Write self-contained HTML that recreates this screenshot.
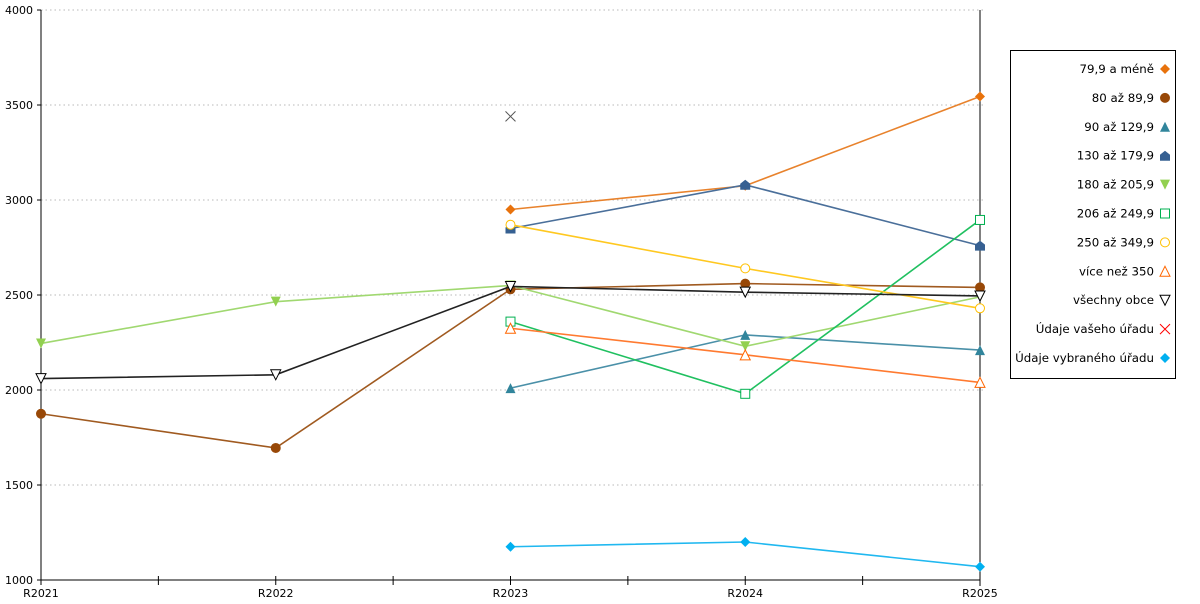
<!DOCTYPE html>
<html><head><meta charset="utf-8"><style>
body{margin:0;background:#fff;width:1200px;height:600px;overflow:hidden;font-family:"DejaVu Sans","Liberation Sans",sans-serif}
svg text{font-family:"DejaVu Sans","Liberation Sans",sans-serif;font-size:11px;fill:#000}
svg text.lg{font-size:11.8px}
</style></head><body>
<svg id="chart" width="1200" height="600"></svg>
<script>
const categories=["R2021","R2022","R2023","R2024","R2025"];
const yTicks=[1000,1500,2000,2500,3000,3500,4000];
const seriesNames=["79,9 a méně","80 až 89,9","90 až 129,9","130 až 179,9","180 až 205,9","206 až 249,9","250 až 349,9","více než 350","všechny obce","Údaje vašeho úřadu","Údaje vybraného úřadu"];
const s1=[null,null,2950,3075,3545];
const s2=[1875,1695,2530,2560,2540];
const s3=[null,null,2010,2290,2210];
const s4=[null,null,2850,3080,2760];
const s5=[2245,2465,2550,2230,2490];
const s6=[null,null,2360,1980,2895];
const s7=[null,null,2870,2640,2430];
const s8=[null,null,2325,2185,2040];
const s9=[2060,2080,2545,2515,2495];
const s10=[null,null,3440,null,null];
const s11=[null,null,1175,1200,1070];
const seriesValues=[s1,s2,s3,s4,s5,s6,s7,s8,s9,s10,s11];
const colors=["#e8720c","#984807","#31859c","#366092","#92d050","#00b050","#ffc000","#ff6600","#000000","#ff0000","#00b0f0"];
const lineColors=["#e8822c","#a05a20","#4a90a8","#4a6f9a","#a0d870","#20c060","#ffc820","#ff7a30","#222222","#555555","#20b8f0"];
const markers=["diamond","circle","tri","house","itri","square","ocircle","otri","oitri","x","diamond"];
const NS="http://www.w3.org/2000/svg";
const svg=document.getElementById('chart');
const X0=41,X1=980,Y0=580,Y1=10;
function xs(i){return X0+i*(X1-X0)/(categories.length-1);}
function ys(v){return Y0-(v-1000)/(4000-1000)*(Y0-Y1);}
function el(t,a){const e=document.createElementNS(NS,t);for(const k in a)e.setAttribute(k,a[k]);return e;}
yTicks.forEach(t=>{
  if(t>1000){const g=el('line',{x1:X0,x2:X1+4,y1:ys(t),y2:ys(t),stroke:'#b8b8b8','stroke-dasharray':'1.5,3'});
  
  svg.appendChild(g);}
  const tx=el('text',{x:X0-8,y:ys(t)+4,'text-anchor':'end'});tx.textContent=t;
  
  svg.appendChild(tx);
  const tk=el('line',{x1:X0-4,x2:X0,y1:ys(t),y2:ys(t),stroke:'#000'});svg.appendChild(tk);
});
const ya=el('line',{x1:X0,x2:X0,y1:Y1,y2:Y0,stroke:'#000'});

svg.appendChild(ya);
const xa=el('line',{x1:X0,x2:X1,y1:Y0,y2:Y0,stroke:'#000'});

svg.appendChild(xa);
const vl=el('line',{x1:X1,x2:X1,y1:Y1,y2:Y0+6,stroke:'#000'});

svg.appendChild(vl);
for(let i=0;i<categories.length*2-1;i++){
  const x=X0+i*(X1-X0)/((categories.length-1)*2);
  svg.appendChild(el('line',{x1:x,x2:x,y1:Y0-4,y2:Y0+5,stroke:'#000'}));
}
categories.forEach((c,i)=>{
  const t=el('text',{x:xs(i),y:Y0+17,'text-anchor':'middle'});t.textContent=c;
  
  svg.appendChild(t);
});
function marker(type,x,y,c,parent){
  let m;const r=5;
  if(type==='diamond')m=el('polygon',{points:`${x},${y-r} ${x+r},${y} ${x},${y+r} ${x-r},${y}`,fill:c});
  else if(type==='circle')m=el('circle',{cx:x,cy:y,r:5,fill:c});
  else if(type==='ocircle')m=el('circle',{cx:x,cy:y,r:4.5,fill:'#fff',stroke:c});
  else if(type==='tri')m=el('polygon',{points:`${x},${y-5} ${x+5},${y+5} ${x-5},${y+5}`,fill:c});
  else if(type==='otri')m=el('polygon',{points:`${x},${y-5} ${x+5},${y+5} ${x-5},${y+5}`,fill:'#fff',stroke:c});
  else if(type==='itri')m=el('polygon',{points:`${x-5},${y-5} ${x+5},${y-5} ${x},${y+5}`,fill:c});
  else if(type==='oitri')m=el('polygon',{points:`${x-5},${y-5} ${x+5},${y-5} ${x},${y+5}`,fill:'#fff',stroke:c});
  else if(type==='house')m=el('polygon',{points:`${x},${y-5} ${x+5},${y-1} ${x+5},${y+5} ${x-5},${y+5} ${x-5},${y-1}`,fill:c});
  else if(type==='square')m=el('rect',{x:x-4.5,y:y-4.5,width:9,height:9,fill:'#fff',stroke:c});
  else {m=el('path',{d:`M${x-5},${y-5}L${x+5},${y+5}M${x+5},${y-5}L${x-5},${y+5}`,stroke:c,fill:'none'});}
  parent.appendChild(m);return m;
}
seriesValues.forEach((vals,si)=>{
  const g=el('g',{});
  
  
  let d='';let started=false;
  vals.forEach((v,i)=>{if(v==null){return;}d+=(started?'L':'M')+xs(i)+','+ys(v);started=true;});
  if(d.split('L').length>1)g.appendChild(el('path',{d:d,fill:'none',stroke:lineColors[si],'stroke-width':1.6}));
  vals.forEach((v,i)=>{if(v==null)return;
    const mk=marker(markers[si],xs(i),ys(v),si===9?'#555':colors[si],g);
    
    });
  svg.appendChild(g);
});
const lg=el('g',{});


lg.appendChild(el('rect',{x:1010.5,y:50.5,width:165,height:328,fill:'#fff',stroke:'#000'}));
seriesNames.forEach((n,i)=>{
  const y=69+i*28.9;
  const t=el('text',{x:1154,y:y+4,'text-anchor':'end','class':'lg'});t.textContent=n;
  
  lg.appendChild(t);
  marker(markers[i],1165,y,colors[i],lg);
});
svg.appendChild(lg);
</script>
</body></html>
